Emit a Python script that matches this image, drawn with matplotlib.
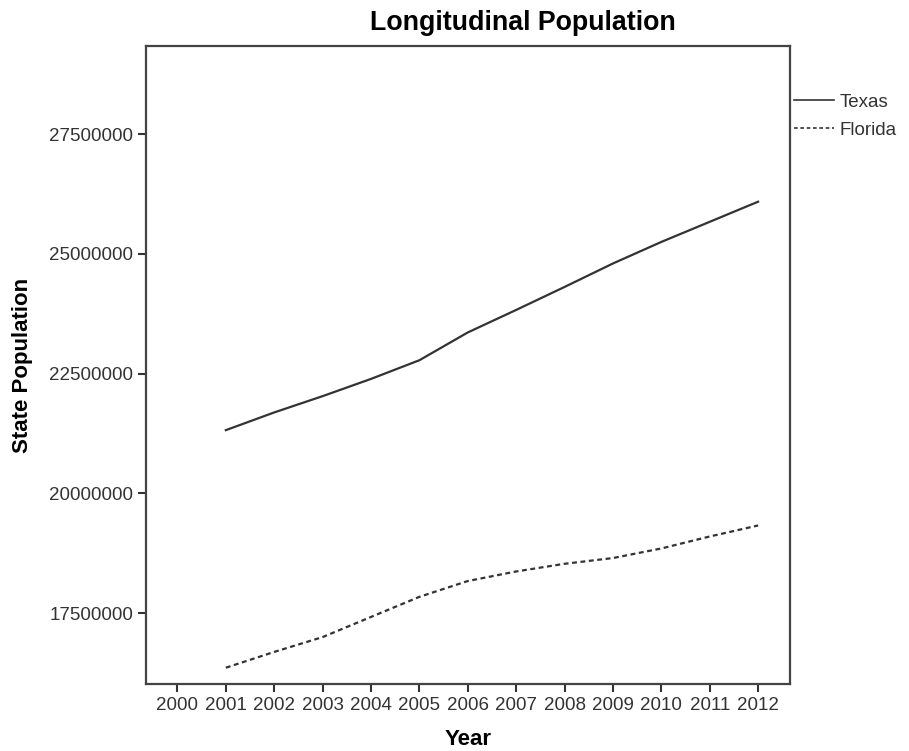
import matplotlib
matplotlib.use('Agg')
import matplotlib.pyplot as plt
from matplotlib.lines import Line2D

plt.rcParams['font.family'] = ['Liberation Sans', 'DejaVu Sans']

# Data
years = [2001, 2002, 2003, 2004, 2005, 2006, 2007, 2008, 2009, 2010, 2011, 2012]
texas = [21320000, 21690000, 22030000, 22390000, 22780000, 23360000,
         23830000, 24310000, 24800000, 25250000, 25670000, 26090000]
florida = [16360000, 16690000, 17000000, 17420000, 17840000, 18170000,
           18370000, 18530000, 18650000, 18850000, 19100000, 19330000]
xticks = list(range(2000, 2013))
yticks = [17500000, 20000000, 22500000, 25000000, 27500000]

line_color = '#333333'
text_color = '#333333'

fig = plt.figure(figsize=(9.09, 7.51), dpi=100)
ax = fig.add_axes([0.1606, 0.0892, 0.708, 0.8495])

ax.plot(years, texas, color=line_color, linewidth=1.6, linestyle='-')
ax.plot(years, florida, color=line_color, linewidth=1.6, linestyle=(0, (2.2, 1.6)))

ax.set_xlim(1999.35, 2012.65)
ax.set_ylim(16020000, 29340000)

ax.set_xticks(xticks)
ax.set_xticklabels([str(x) for x in xticks])
ax.set_yticks(yticks)
ax.set_yticklabels([str(y) for y in yticks])

ax.tick_params(axis='both', direction='out', length=6, width=1.5,
               color=line_color, labelsize=13.5, labelcolor=text_color, pad=3)

for s in ax.spines.values():
    s.set_linewidth(1.6)
    s.set_color('#444444')

# title is centred over plot + legend area, as in the reference
fig.text(0.575, 0.969, 'Longitudinal Population', fontsize=19.3, fontweight='bold',
         ha='center', va='center')
ax.set_xlabel('Year', fontsize=16, fontweight='bold', labelpad=11)
ax.set_ylabel('State Population', fontsize=16, fontweight='bold', labelpad=12)

# Legend outside the plot, to the right, without frame
handles = [Line2D([], [], color=line_color, linewidth=1.2, linestyle='-'),
           Line2D([], [], color=line_color, linewidth=1.2, linestyle=(0, (2.2, 1.6)))]
fig.legend(handles, ['Texas', 'Florida'], loc='upper left',
           bbox_to_anchor=(0.874, 0.875), frameon=False, fontsize=13.5,
           handlelength=2.1, handletextpad=0.3, labelspacing=0.57,
           labelcolor=text_color, borderaxespad=0.0, borderpad=0.0)

fig.savefig('out.png', dpi=100, facecolor='white')
